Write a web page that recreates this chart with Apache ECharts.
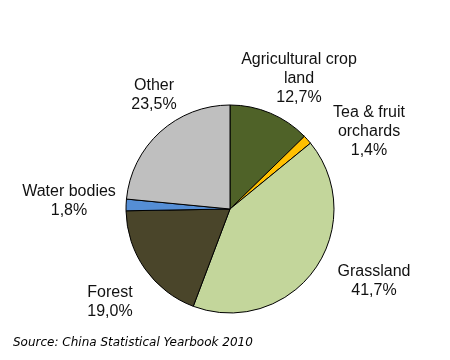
<!DOCTYPE html>
<html><head><meta charset="utf-8">
<script src="https://cdn.jsdelivr.net/npm/echarts@6/dist/echarts.min.js"></script>
<style>html,body{margin:0;padding:0;background:#fff}#c{width:450px;height:360px}</style>
</head><body><div id="c"></div>
<script>
const categories = ["Agricultural crop\nland", "Tea & fruit\norchards", "Grassland", "Forest", "Water bodies", "Other"];
const values = [12.7, 1.4, 41.7, 19.0, 1.8, 23.5];
const colors = ["#4f6228", "#ffc000", "#c3d69b", "#4a452a", "#558ed5", "#bfbfbf"];
const labelPos = [[299, 79], [369, 132], [374, 281], [110, 302], [69, 201], [154, 95]];
const source = "Source: China Statistical Yearbook 2010";

const chart = echarts.init(document.getElementById('c'));
chart.setOption({
  animation: false,
  backgroundColor: '#fff',
  graphic: [{
    type: 'text', left: 13, top: 337,
    style: { text: source, font: 'italic 12px DejaVu Sans', fill: '#000' }
  }],
  series: [{
    type: 'pie',
    center: [230, 209],
    radius: 104,
    startAngle: 90,
    clockwise: true,
    data: categories.map((c, i) => ({ name: c, value: values[i], itemStyle: { color: colors[i] } })),
    itemStyle: { borderColor: '#000', borderWidth: 1 },
    label: {
      show: true,
      formatter: p => p.name + '\n' + p.value.toFixed(1).replace('.', ',') + '%',
      fontFamily: 'Liberation Sans',
      fontSize: 16,
      lineHeight: 19,
      color: '#111',
      align: 'center',
      overflow: 'none',
      width: 200
    },
    labelLine: { show: false },
    labelLayout: p => ({ x: labelPos[p.dataIndex][0], y: labelPos[p.dataIndex][1], align: 'center', verticalAlign: 'middle' }),
    emphasis: { disabled: true }
  }]
});
</script></body></html>
